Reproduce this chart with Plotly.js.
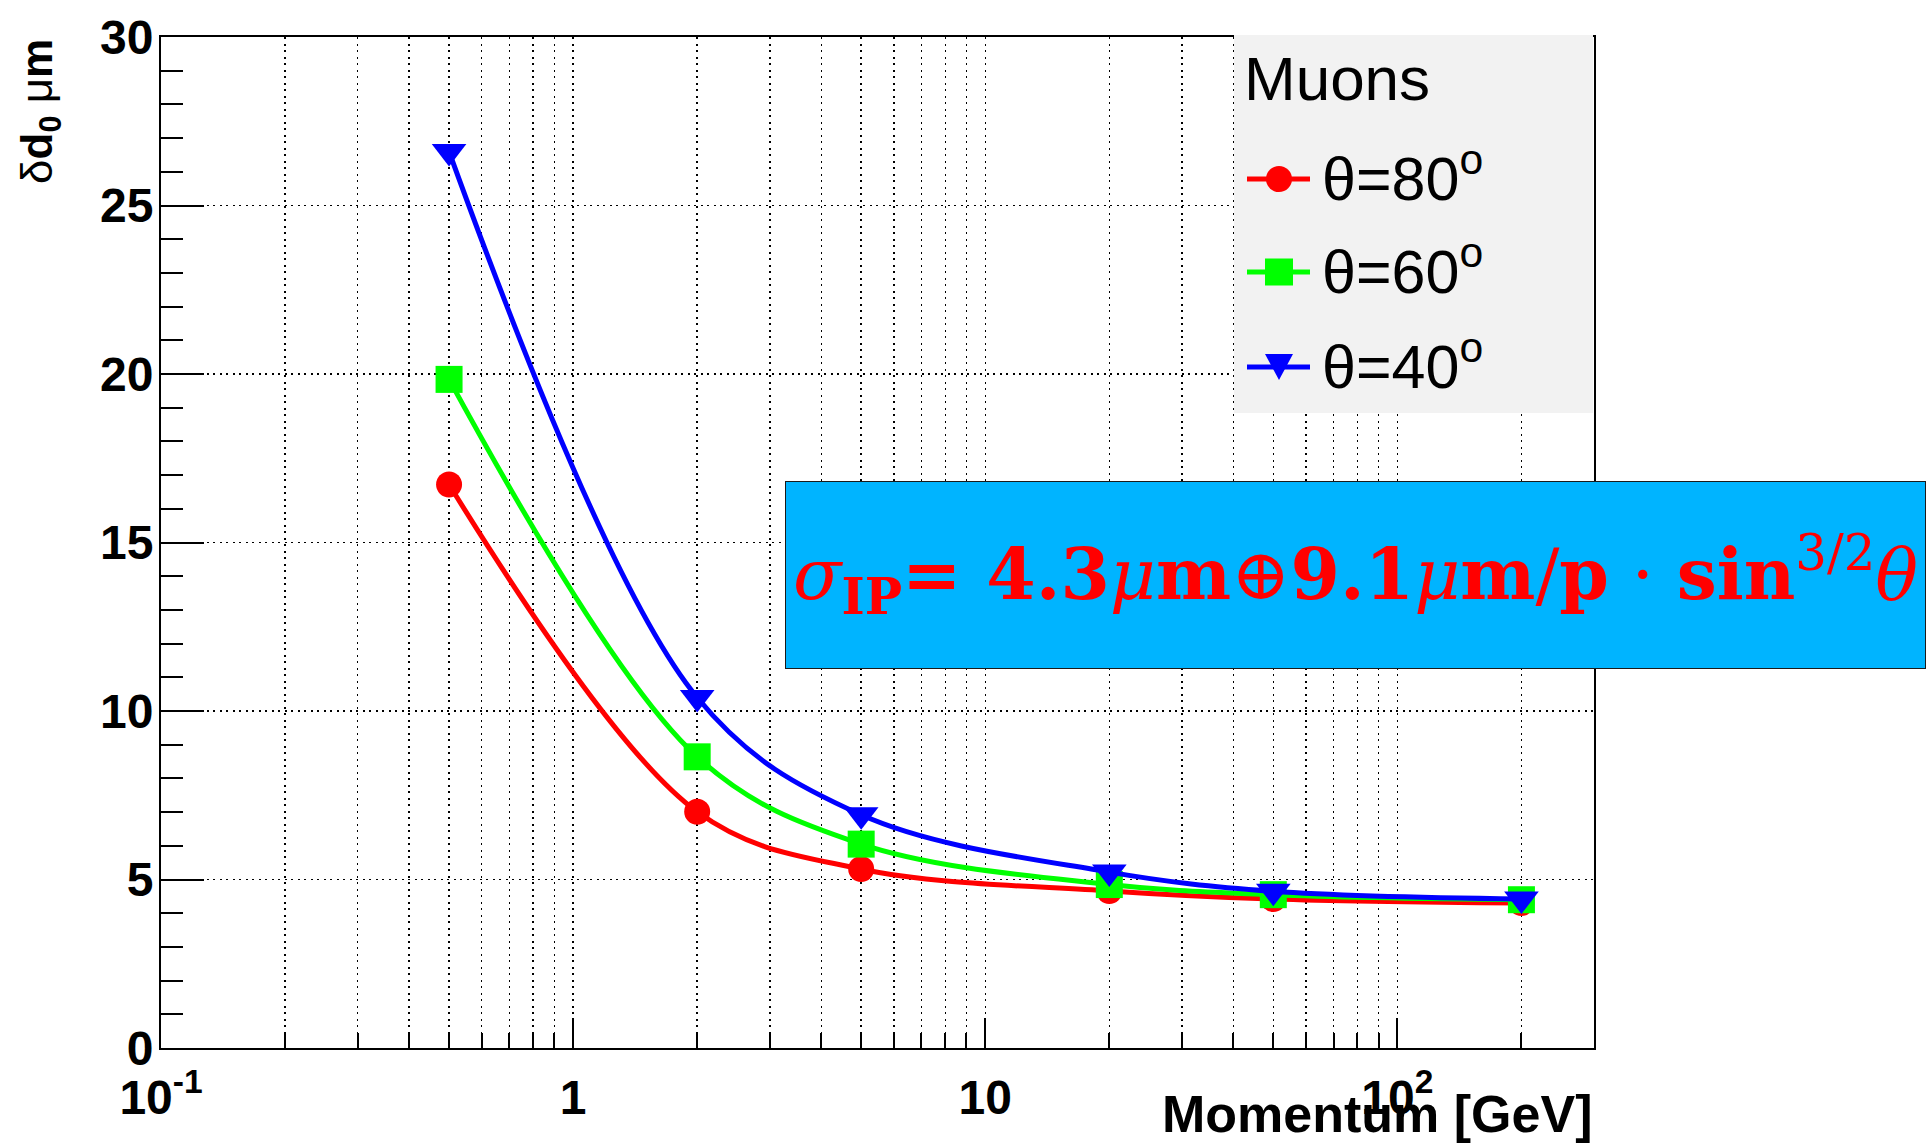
<!DOCTYPE html>
<html>
<head>
<meta charset="utf-8">
<script src="https://cdn.plot.ly/plotly-3.0.1.min.js"></script>
<style>html,body{margin:0;padding:0;background:#fff;}#chart{width:1928px;height:1148px;}</style>
</head>
<body>
<div id="chart"></div>
<script>
// ---- data ----
var momentum = [0.5, 2, 5, 20, 50, 200];
var theta80 = [16.72, 7.01, 5.31, 4.66, 4.42, 4.30];
var theta60 = [19.84, 8.64, 6.05, 4.85, 4.55, 4.40];
var theta40 = [26.6, 10.4, 6.92, 5.22, 4.65, 4.42];
var seriesNames = ['θ=80<sup>o</sup>', 'θ=60<sup>o</sup>', 'θ=40<sup>o</sup>'];
var xTickVals = [0.1, 1, 10, 100];
var xTickText = ['10<sup>-1</sup>', '1', '10', '10<sup>2</sup>'];
var xMinorVals = [0.2,0.3,0.4,0.5,0.6,0.7,0.8,0.9,2,3,4,5,6,7,8,9,20,30,40,50,60,70,80,90,200,300];
var legendTitle = 'Muons';
var xTitle = 'Momentum [GeV]';
var yTitle = 'δ<b>d</b><sub><b>0</b></sub> μ<b>m</b>';
var formula = '<i>σ</i><sub><b>IP</b></sub><b>= 4.3</b><i>μ</i><b>m</b>⊕<b>9.1</b><i>μ</i><b>m</b>/<b>p</b> · <b>sin</b><sup>3/2</sup><i>θ</i>';

// ---- layout geometry (pixels) ----
var W = 1928, H = 1148;
var L = 161, R = 334, T = 37, B = 100;
var PW = W - L - R, PH = H - T - B;
function px2x(px){ return (px - L) / PW; }
function px2y(py){ return (H - B - py) / PH; }

var colors = ['#ff0000', '#00ff00', '#0000ff'];
var symbols = ['circle', 'square', 'triangle-down'];
var msizes = [26, 27, 30];
var ys = [theta80, theta60, theta40];

var traces = ys.map(function(v, i){
  return {
    x: momentum, y: v, type: 'scatter', mode: 'lines+markers',
    name: seriesNames[i],
    line: {color: colors[i], width: 5, shape: 'spline', smoothing: 1},
    marker: {color: colors[i], symbol: symbols[i], size: msizes[i], line: {width: 0}},
    showlegend: false, hoverinfo: 'x+y'
  };
});

var gridDash = '2px,4.5px';
var shapes = [];
var annotations = [];

// legend background
shapes.push({type:'rect', xref:'paper', yref:'paper', layer:'above',
  x0: px2x(1234), x1: px2x(1593), y0: px2y(413), y1: px2y(35),
  fillcolor:'#f2f2f2', line:{width:0}});

var legRowY = [179, 272, 367];
legRowY.forEach(function(yy, i){
  shapes.push({type:'line', xref:'paper', yref:'paper', layer:'above',
    x0: px2x(1247), x1: px2x(1310), y0: px2y(yy), y1: px2y(yy),
    line:{color: colors[i], width: 5}});
  var common = {xref:'paper', yref:'paper', layer:'above', xsizemode:'pixel', ysizemode:'pixel',
    xanchor: px2x(1279), yanchor: px2y(yy), fillcolor: colors[i], line:{width:0}};
  if (i === 0) {
    shapes.push(Object.assign({type:'circle', x0:-13, x1:13, y0:-13, y1:13}, common));
  } else if (i === 1) {
    shapes.push(Object.assign({type:'rect', x0:-14, x1:14, y0:-13.5, y1:13.5}, common));
  } else {
    shapes.push(Object.assign({type:'path', path:'M-14,13L14,13L0,-13Z'}, common));
  }
  annotations.push({xref:'paper', yref:'paper', x: px2x(1320), y: px2y(yy - 5),
    xanchor:'left', yanchor:'middle', showarrow:false, text: seriesNames[i],
    font:{family:'Liberation Sans', size:61, color:'#000'}});
});

annotations.push({xref:'paper', yref:'paper', x: px2x(1242), y: px2y(78),
  xanchor:'left', yanchor:'middle', showarrow:false, text: legendTitle,
  font:{family:'Liberation Sans', size:62, color:'#000'}});

// axis titles
annotations.push({xref:'paper', yref:'paper', x: 1, y: px2y(1114),
  xanchor:'right', yanchor:'middle', showarrow:false, text: '<b>' + xTitle + '</b>',
  font:{family:'Liberation Sans', size:52, color:'#000'}});
annotations.push({xref:'paper', yref:'paper', x: px2x(40), y: px2y(112),
  xanchor:'center', yanchor:'middle', showarrow:false, textangle:-90, text: yTitle,
  font:{family:'Liberation Sans', size:44, color:'#000'}});

// formula box
annotations.push({xref:'paper', yref:'paper', x: px2x(1355.5), y: px2y(575),
  xanchor:'center', yanchor:'middle', showarrow:false, text: formula,
  width: 1139, height: 186, bgcolor:'#00b4ff', bordercolor:'#1a1a1a', borderwidth:1, borderpad:0,
  valign:'middle', align:'center',
  font:{family:'DejaVu Serif', size:71, color:'#ff0000'}});

var layout = {
  width: W, height: H,
  margin: {l: L, r: R, t: T, b: B, pad: 0},
  paper_bgcolor: '#ffffff', plot_bgcolor: '#ffffff',
  showlegend: false,
  xaxis: {
    type: 'log', range: [-1, Math.log10(300)],
    tickmode: 'array', tickvals: xTickVals, ticktext: xTickText,
    ticks: 'inside', ticklen: 30, tickwidth: 2, tickcolor: '#000',
    tickfont: {family: 'Liberation Sans', size: 48, color: '#000', weight: 'bold'},
    ticklabelstandoff: 6,
    showgrid: true, gridcolor: '#000', gridwidth: 1.5, griddash: gridDash,
    minor: {tickmode: 'array', tickvals: xMinorVals, ticks: 'inside', ticklen: 15, tickwidth: 2, tickcolor: '#000',
            showgrid: true, gridcolor: '#000', gridwidth: 1.5, griddash: gridDash},
    showline: true, linecolor: '#000', linewidth: 2, mirror: true, zeroline: false
  },
  yaxis: {
    range: [0, 30], tickmode: 'linear', tick0: 0, dtick: 5,
    ticks: 'inside', ticklen: 43, tickwidth: 2, tickcolor: '#000',
    tickfont: {family: 'Liberation Sans', size: 48, color: '#000', weight: 'bold'},
    ticklabelstandoff: -4,
    showgrid: true, gridcolor: '#000', gridwidth: 1.5, griddash: gridDash,
    minor: {dtick: 1, ticks: 'inside', ticklen: 22, tickwidth: 2, tickcolor: '#000', showgrid: false},
    showline: true, linecolor: '#000', linewidth: 2, mirror: true, zeroline: false
  },
  shapes: shapes,
  annotations: annotations
};

Plotly.newPlot('chart', traces, layout, {staticPlot: true, displayModeBar: false});
</script>
</body>
</html>
